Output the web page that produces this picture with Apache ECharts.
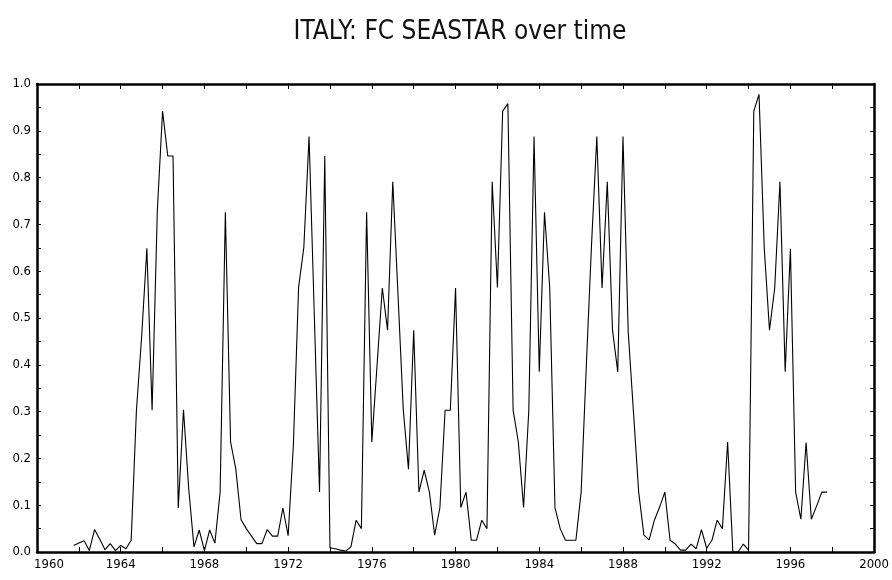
<!DOCTYPE html>
<html>
<head>
<meta charset="utf-8">
<script src="https://cdn.jsdelivr.net/npm/echarts@6/dist/echarts.min.js"></script>
<style>
html,body{margin:0;padding:0;background:#fff;}
#chart{width:892px;height:580px;}
</style>
</head>
<body>
<div id="chart"></div>
<script>
// Quarterly series, first observation 1961 Q4 (1961.75)
const startYear = 1961.75;
const quarterStep = 0.25;
const seastar = [
  0.014,0.019,0.024,0.003,0.048,0.027,0.005,0.018,0.003,0.014,
  0.007,0.025,0.302,0.46,0.649,0.303,0.73,0.942,0.846,0.846,
  0.094,0.304,0.135,0.011,0.047,0.003,0.047,0.019,0.128,0.726,
  0.235,0.177,0.069,0.05,0.034,0.018,0.018,0.048,0.034,0.034,
  0.094,0.035,0.228,0.566,0.651,0.888,0.507,0.128,0.846,0.009,
  0.007,0.004,0.002,0.011,0.068,0.05,0.726,0.235,0.40,0.564,
  0.474,0.791,0.55,0.305,0.177,0.474,0.128,0.175,0.128,0.036,
  0.094,0.303,0.303,0.564,0.095,0.128,0.025,0.025,0.068,0.05,
  0.791,0.565,0.942,0.958,0.303,0.235,0.095,0.303,0.888,0.385,
  0.726,0.564,0.095,0.05,0.025,0.025,0.025,0.128,0.40,0.66,
  0.888,0.564,0.791,0.474,0.385,0.888,0.47,0.30,0.128,0.036,
  0.026,0.068,0.096,0.128,0.025,0.017,0.004,0.004,0.017,0.007,
  0.048,0.008,0.025,0.068,0.05,0.235,0.0,0.0,0.017,0.004,
  0.942,0.978,0.65,0.474,0.564,0.791,0.385,0.648,0.128,0.07,
  0.234,0.07,0.098,0.128,0.128
];
const xLabelYears = [1960,1964,1968,1972,1976,1980,1984,1988,1992,1996,2000];
const yLabelValues = ['0.0','0.1','0.2','0.3','0.4','0.5','0.6','0.7','0.8','0.9','1.0'];

const data = seastar.map((v, i) => [startYear + i * quarterStep, v]);

const FONT = '"Liberation Sans Narrow","DejaVu Sans Condensed","Roboto Condensed","Liberation Sans",sans-serif';

const chart = echarts.init(document.getElementById('chart'), null, {renderer: 'canvas'});

const xAxisBase = {
  type: 'value', min: 1960, max: 2000, interval: 2,
  axisLine: {show: true, onZero: false, lineStyle: {color: '#000', width: 2.5}},
  axisTick: {show: true, inside: true, length: 5, lineStyle: {color: '#000', width: 1}},
  splitLine: {show: false}
};
const yAxisBase = {
  type: 'value', min: 0, max: 1, interval: 0.05,
  axisLine: {show: true, onZero: false, lineStyle: {color: '#000', width: 2.5}},
  axisTick: {show: true, inside: true, length: 4, lineStyle: {color: '#000', width: 1}},
  splitLine: {show: false}
};

chart.setOption({
  animation: false,
  backgroundColor: '#fff',
  title: {
    text: 'ITALY: FC SEASTAR over time',
    left: 455, top: 14, textAlign: 'center',
    textStyle: {fontFamily: FONT, fontWeight: 'normal', fontSize: 26, color: '#111'}
  },
  grid: {left: 37, right: 15, top: 84, bottom: 28, containLabel: false},
  xAxis: [
    Object.assign({}, xAxisBase, {
      position: 'bottom',
      axisLabel: {
        show: true, margin: 6, color: '#000', fontFamily: FONT, fontSize: 13,
        formatter: v => {
          const y = Math.round(v);
          if (xLabelYears.indexOf(y) < 0) return '';
          return y === xLabelYears[0] ? '{f|' + y + '}' : String(y);
        },
        rich: {f: {padding: [0, 0, 0, 24], fontFamily: FONT, fontSize: 13, color: '#000'}}
      }
    }),
    Object.assign({}, xAxisBase, {position: 'top', axisLabel: {show: false}})
  ],
  yAxis: [
    Object.assign({}, yAxisBase, {
      position: 'left',
      axisLabel: {
        show: true, margin: 6, color: '#000', fontFamily: FONT, fontSize: 13,
        formatter: v => {
          const k = Math.round(v * 20);
          return k % 2 === 0 ? yLabelValues[k / 2] : '';
        }
      }
    }),
    Object.assign({}, yAxisBase, {position: 'right', axisLabel: {show: false}})
  ],
  series: [{
    type: 'line',
    xAxisIndex: 0, yAxisIndex: 0,
    data: data,
    showSymbol: false,
    symbol: 'none',
    lineStyle: {color: '#000', width: 1.1},
    z: 1
  }]
});
</script>
</body>
</html>
